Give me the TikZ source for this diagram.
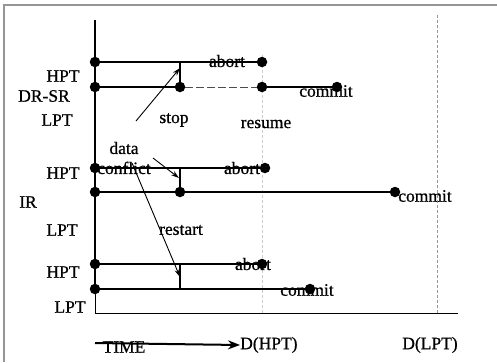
\documentclass[tikz,border=0pt]{standalone}
\usepackage{fontspec}
\setmainfont{Liberation Serif}
\newfontfamily\scanfont{Liberation Serif}[FakeBold=0.7]
\usepackage{tikz}
\usetikzlibrary{arrows, arrows.meta, positioning, calc}
\definecolor{inkblack}{RGB}{0,0,0}
\definecolor{framegray}{RGB}{150,150,150}

\begin{document}
\begin{tikzpicture}[
        x=1pt, y=-1pt,
        every node/.style={align=center, text=inkblack},
        lbl/.style={font=\scanfont\fontsize{17.5}{20}\selectfont, inner sep=0pt},
        event/.style={circle, fill=inkblack, draw=none, minimum size=10.5pt, inner sep=0pt},
        mark point/.style={coordinate},
        track/.style={draw=inkblack, line width=1.2pt},
        wait/.style={draw=inkblack!70, line width=0.8pt, dash pattern=on 8pt off 3pt},
        cause/.style={-{Stealth[length=8pt, width=5pt]}, draw=inkblack, line width=0.9pt},
        deadline/.style={draw=framegray, line width=0.7pt, dash pattern=on 3pt off 2pt}
    ]
        \useasboundingbox (0,0) rectangle (497,362);
        % frame
        \draw[framegray, line width=1.2pt] (4,362) -- (4,5) -- (497,5);

        % time axis and deadlines
        \coordinate (axtop) at (95,20);
        \coordinate (axbot) at (95,313);
        \coordinate (axend) at (458,313);
        \coordinate (dltop) at (437,15);
        \coordinate (dlbot) at (437,313);
        \coordinate (dhtop) at (262,55);
        \coordinate (dhbot) at (262,313);
        \draw[deadline] (dltop) -- (dlbot);
        \draw[deadline, draw=framegray!50] (dhtop) -- (dhbot);
        \draw[inkblack, line width=1.6pt] (axtop) -- (95,289);
        \draw[inkblack, line width=1pt] (95,289) -- (axbot) -- (axend);

        % DR-SR
        \node [event] (hpA) at (95,62) {};
        \node [event] (abA) at (262,62) {};
        \node [mark point] (stA) at (180,62) {};
        \node [event] (lpA) at (95,87) {};
        \node [event] (spA) at (180,87) {};
        \node [event] (rsA) at (262,87) {};
        \node [event] (cmA) at (337,87) {};
        \draw[track] (hpA) -- (abA);
        \draw[track] (lpA) -- (spA);
        \draw[wait] (spA) -- (rsA);
        \draw[track] (rsA) -- (cmA);
        \draw[track] (stA) -- (spA);
        \coordinate (stopfrom) at (136,121);
        \coordinate (stopto) at (180,68);
        \draw[cause] (stopfrom) -- (stopto);
        \node [lbl] (abtA) at (227,61) {abort};
        \node [lbl] (cmtA) at (326,91) {commit};
        \node [lbl] (stop) at (174,120) {stop};
        \node [lbl] (resume) at (266,124) {resume};
        \node [lbl] (hptA) at (63,76) {HPT};
        \node [lbl] (drsr) at (44,96) {DR-SR};
        \node [lbl] (lptA) at (57,120) {LPT};

        % IR
        \node [event] (hpB) at (95,168) {};
        \node [event] (abB) at (265,168) {};
        \node [mark point] (stB) at (180,168) {};
        \node [event] (lpB) at (95,192) {};
        \node [event] (cfB) at (180,192) {};
        \node [event] (cmB) at (395,192) {};
        \draw[track] (hpB) -- (abB);
        \draw[track] (lpB) -- (cmB);
        \draw[track] (stB) -- (cfB);
        \node [lbl] (conflict) at (124,158) {data\\conflict};
        \coordinate (cffrom) at (153,158);
        \coordinate (cfto) at (179,178);
        \draw[cause] (cffrom) -- (cfto);
        \node [lbl] (abtB) at (242,168) {abort};
        \node [lbl] (cmtB) at (425,196) {commit};
        \node [lbl] (hptB) at (63,173) {HPT};
        \node [lbl] (ir) at (28,202) {IR};
        \node [lbl] (lptB) at (62,230) {LPT};

        % restart
        \node [event] (hpC) at (95,264) {};
        \node [event] (abC) at (262,264) {};
        \node [mark point] (stC) at (180,264) {};
        \node [event] (lpC) at (95,289) {};
        \node [mark point] (rtC) at (180,289) {};
        \node [event] (cmC) at (310,289) {};
        \draw[track] (hpC) -- (abC);
        \draw[track] (lpC) -- (cmC);
        \draw[track] (stC) -- (rtC);
        \coordinate (rsfrom) at (132,163);
        \coordinate (rsto) at (180,277);
        \draw[cause] (rsfrom) -- (rsto);
        \node [lbl] (restart) at (181,230) {restart};
        \node [lbl] (abtC) at (253,264) {abort};
        \node [lbl] (cmtC) at (307,290) {commit};
        \node [lbl] (hptC) at (63,272) {HPT};
        \node [lbl] (lptC) at (70,307) {LPT};

        % time arrow and deadline labels
        \node [lbl] (time) at (124,347) {TIME};
        \coordinate (tfrom) at (95,343);
        \node [lbl, anchor=west] (dhpt) at (240,345) {D(HPT)};
        \node [lbl] (dlpt) at (430,345) {D(LPT)};
        \draw[-{Stealth[length=12pt, width=9pt]}, draw=inkblack, line width=2pt] (tfrom) -- (dhpt.west);
    \end{tikzpicture}
\end{document}
